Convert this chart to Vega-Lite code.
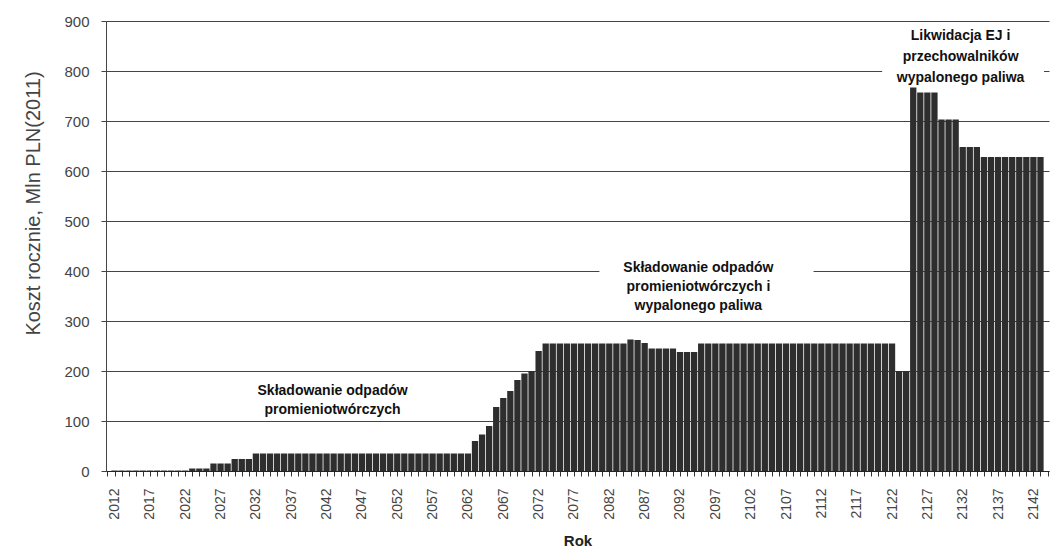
{
  "$schema": "https://vega.github.io/schema/vega-lite/v6.json",
  "width": 943,
  "height": 450,
  "autosize": "none",
  "padding": {"left": 106, "top": 21, "right": 4, "bottom": 81},
  "background": "white",
  "config": {"view": {"stroke": null}, "font": "Liberation Sans"},
  "datasets": {
    "costs": [
      {"year": 2012, "cost": 1}, {"year": 2013, "cost": 1}, {"year": 2014, "cost": 1}, {"year": 2015, "cost": 1},
      {"year": 2016, "cost": 1}, {"year": 2017, "cost": 1}, {"year": 2018, "cost": 1}, {"year": 2019, "cost": 1},
      {"year": 2020, "cost": 1}, {"year": 2021, "cost": 1}, {"year": 2022, "cost": 1},
      {"year": 2023, "cost": 5}, {"year": 2024, "cost": 5}, {"year": 2025, "cost": 5},
      {"year": 2026, "cost": 15}, {"year": 2027, "cost": 15}, {"year": 2028, "cost": 15},
      {"year": 2029, "cost": 24}, {"year": 2030, "cost": 24}, {"year": 2031, "cost": 24},
      {"year": 2032, "cost": 35}, {"year": 2033, "cost": 35}, {"year": 2034, "cost": 35}, {"year": 2035, "cost": 35},
      {"year": 2036, "cost": 35}, {"year": 2037, "cost": 35}, {"year": 2038, "cost": 35}, {"year": 2039, "cost": 35},
      {"year": 2040, "cost": 35}, {"year": 2041, "cost": 35}, {"year": 2042, "cost": 35}, {"year": 2043, "cost": 35},
      {"year": 2044, "cost": 35}, {"year": 2045, "cost": 35}, {"year": 2046, "cost": 35}, {"year": 2047, "cost": 35},
      {"year": 2048, "cost": 35}, {"year": 2049, "cost": 35}, {"year": 2050, "cost": 35}, {"year": 2051, "cost": 35},
      {"year": 2052, "cost": 35}, {"year": 2053, "cost": 35}, {"year": 2054, "cost": 35}, {"year": 2055, "cost": 35},
      {"year": 2056, "cost": 35}, {"year": 2057, "cost": 35}, {"year": 2058, "cost": 35}, {"year": 2059, "cost": 35},
      {"year": 2060, "cost": 35}, {"year": 2061, "cost": 35}, {"year": 2062, "cost": 35},
      {"year": 2063, "cost": 60}, {"year": 2064, "cost": 73}, {"year": 2065, "cost": 90}, {"year": 2066, "cost": 128},
      {"year": 2067, "cost": 146}, {"year": 2068, "cost": 160}, {"year": 2069, "cost": 182}, {"year": 2070, "cost": 195},
      {"year": 2071, "cost": 200}, {"year": 2072, "cost": 240},
      {"year": 2073, "cost": 255}, {"year": 2074, "cost": 255}, {"year": 2075, "cost": 255}, {"year": 2076, "cost": 255},
      {"year": 2077, "cost": 255}, {"year": 2078, "cost": 255}, {"year": 2079, "cost": 255}, {"year": 2080, "cost": 255},
      {"year": 2081, "cost": 255}, {"year": 2082, "cost": 255}, {"year": 2083, "cost": 255}, {"year": 2084, "cost": 255},
      {"year": 2085, "cost": 263}, {"year": 2086, "cost": 262}, {"year": 2087, "cost": 256},
      {"year": 2088, "cost": 245}, {"year": 2089, "cost": 245}, {"year": 2090, "cost": 245}, {"year": 2091, "cost": 245},
      {"year": 2092, "cost": 238}, {"year": 2093, "cost": 238}, {"year": 2094, "cost": 238},
      {"year": 2095, "cost": 255}, {"year": 2096, "cost": 255}, {"year": 2097, "cost": 255}, {"year": 2098, "cost": 255},
      {"year": 2099, "cost": 255}, {"year": 2100, "cost": 255}, {"year": 2101, "cost": 255}, {"year": 2102, "cost": 255},
      {"year": 2103, "cost": 255}, {"year": 2104, "cost": 255}, {"year": 2105, "cost": 255}, {"year": 2106, "cost": 255},
      {"year": 2107, "cost": 255}, {"year": 2108, "cost": 255}, {"year": 2109, "cost": 255}, {"year": 2110, "cost": 255},
      {"year": 2111, "cost": 255}, {"year": 2112, "cost": 255}, {"year": 2113, "cost": 255}, {"year": 2114, "cost": 255},
      {"year": 2115, "cost": 255}, {"year": 2116, "cost": 255}, {"year": 2117, "cost": 255}, {"year": 2118, "cost": 255},
      {"year": 2119, "cost": 255}, {"year": 2120, "cost": 255}, {"year": 2121, "cost": 255}, {"year": 2122, "cost": 255},
      {"year": 2123, "cost": 200}, {"year": 2124, "cost": 200},
      {"year": 2125, "cost": 767},
      {"year": 2126, "cost": 757}, {"year": 2127, "cost": 757}, {"year": 2128, "cost": 757},
      {"year": 2129, "cost": 703}, {"year": 2130, "cost": 703}, {"year": 2131, "cost": 703},
      {"year": 2132, "cost": 648}, {"year": 2133, "cost": 648}, {"year": 2134, "cost": 648},
      {"year": 2135, "cost": 628}, {"year": 2136, "cost": 628}, {"year": 2137, "cost": 628}, {"year": 2138, "cost": 628},
      {"year": 2139, "cost": 628}, {"year": 2140, "cost": 628}, {"year": 2141, "cost": 628}, {"year": 2142, "cost": 628},
      {"year": 2143, "cost": 628}
    ],
    "boxes": [
      {"x0": 2080.6, "x1": 2110.9, "y0": 312, "y1": 426},
      {"x0": 2120.6, "x1": 2143.5, "y0": 772, "y1": 893}
    ],
    "notes": [
      {"x": 2042.85, "y": 160, "text": "Składowanie odpadów"},
      {"x": 2042.85, "y": 122, "text": "promieniotwórczych"},
      {"x": 2094.6, "y": 406, "text": "Składowanie odpadów"},
      {"x": 2094.6, "y": 368, "text": "promieniotwórczych i"},
      {"x": 2094.6, "y": 330, "text": "wypalonego paliwa"},
      {"x": 2131.7, "y": 870, "text": "Likwidacja EJ i"},
      {"x": 2131.7, "y": 828, "text": "przechowalników"},
      {"x": 2131.7, "y": 786, "text": "wypalonego paliwa"}
    ]
  },
  "layer": [
    {
      "data": {"name": "costs"},
      "mark": {"type": "bar", "width": 6.3, "color": "#2e2e2e"},
      "encoding": {
        "x": {
          "field": "year", "type": "quantitative",
          "scale": {"domain": [2011.5, 2143.5], "nice": false, "zero": false},
          "axis": {
            "title": "Rok", "tickCount": 132, "format": "d",
            "labelExpr": "datum.value % 5 == 2 ? datum.label : ''",
            "labelAngle": 270, "labelOverlap": false, "labelFlush": false,
            "labelFontSize": 14, "labelColor": "#444444", "labelPadding": 12,
            "tickSize": 5, "tickColor": "#333333", "domainColor": "#222222",
            "grid": false,
            "titleFontSize": 15, "titleFontWeight": "bold", "titleColor": "#222222", "titlePadding": 14
          }
        },
        "y": {
          "field": "cost", "type": "quantitative",
          "scale": {"domain": [0, 900], "nice": false},
          "axis": {
            "title": "Koszt rocznie, Mln PLN(2011)",
            "values": [0, 100, 200, 300, 400, 500, 600, 700, 800, 900],
            "grid": true, "gridColor": "#444444", "gridWidth": 1,
            "tickSize": 5, "tickColor": "#444444", "domainColor": "#444444",
            "labelFontSize": 15, "labelColor": "#444444", "labelPadding": 12,
            "titleFontSize": 20, "titleFontWeight": "normal", "titleColor": "#444444",
            "titlePadding": 20, "titleY": 182
          }
        }
      }
    },
    {
      "data": {"name": "boxes"},
      "mark": {"type": "rect", "color": "white"},
      "encoding": {
        "x": {"field": "x0", "type": "quantitative", "title": "Rok"},
        "x2": {"field": "x1"},
        "y": {"field": "y0", "type": "quantitative", "title": "Koszt rocznie, Mln PLN(2011)"},
        "y2": {"field": "y1"}
      }
    },
    {
      "data": {"name": "notes"},
      "mark": {"type": "text", "fontWeight": "bold", "fontSize": 14, "font": "Liberation Sans", "align": "center", "baseline": "middle", "color": "#111111"},
      "encoding": {
        "x": {"field": "x", "type": "quantitative", "title": "Rok"},
        "y": {"field": "y", "type": "quantitative", "title": "Koszt rocznie, Mln PLN(2011)"},
        "text": {"field": "text"}
      }
    }
  ]
}
